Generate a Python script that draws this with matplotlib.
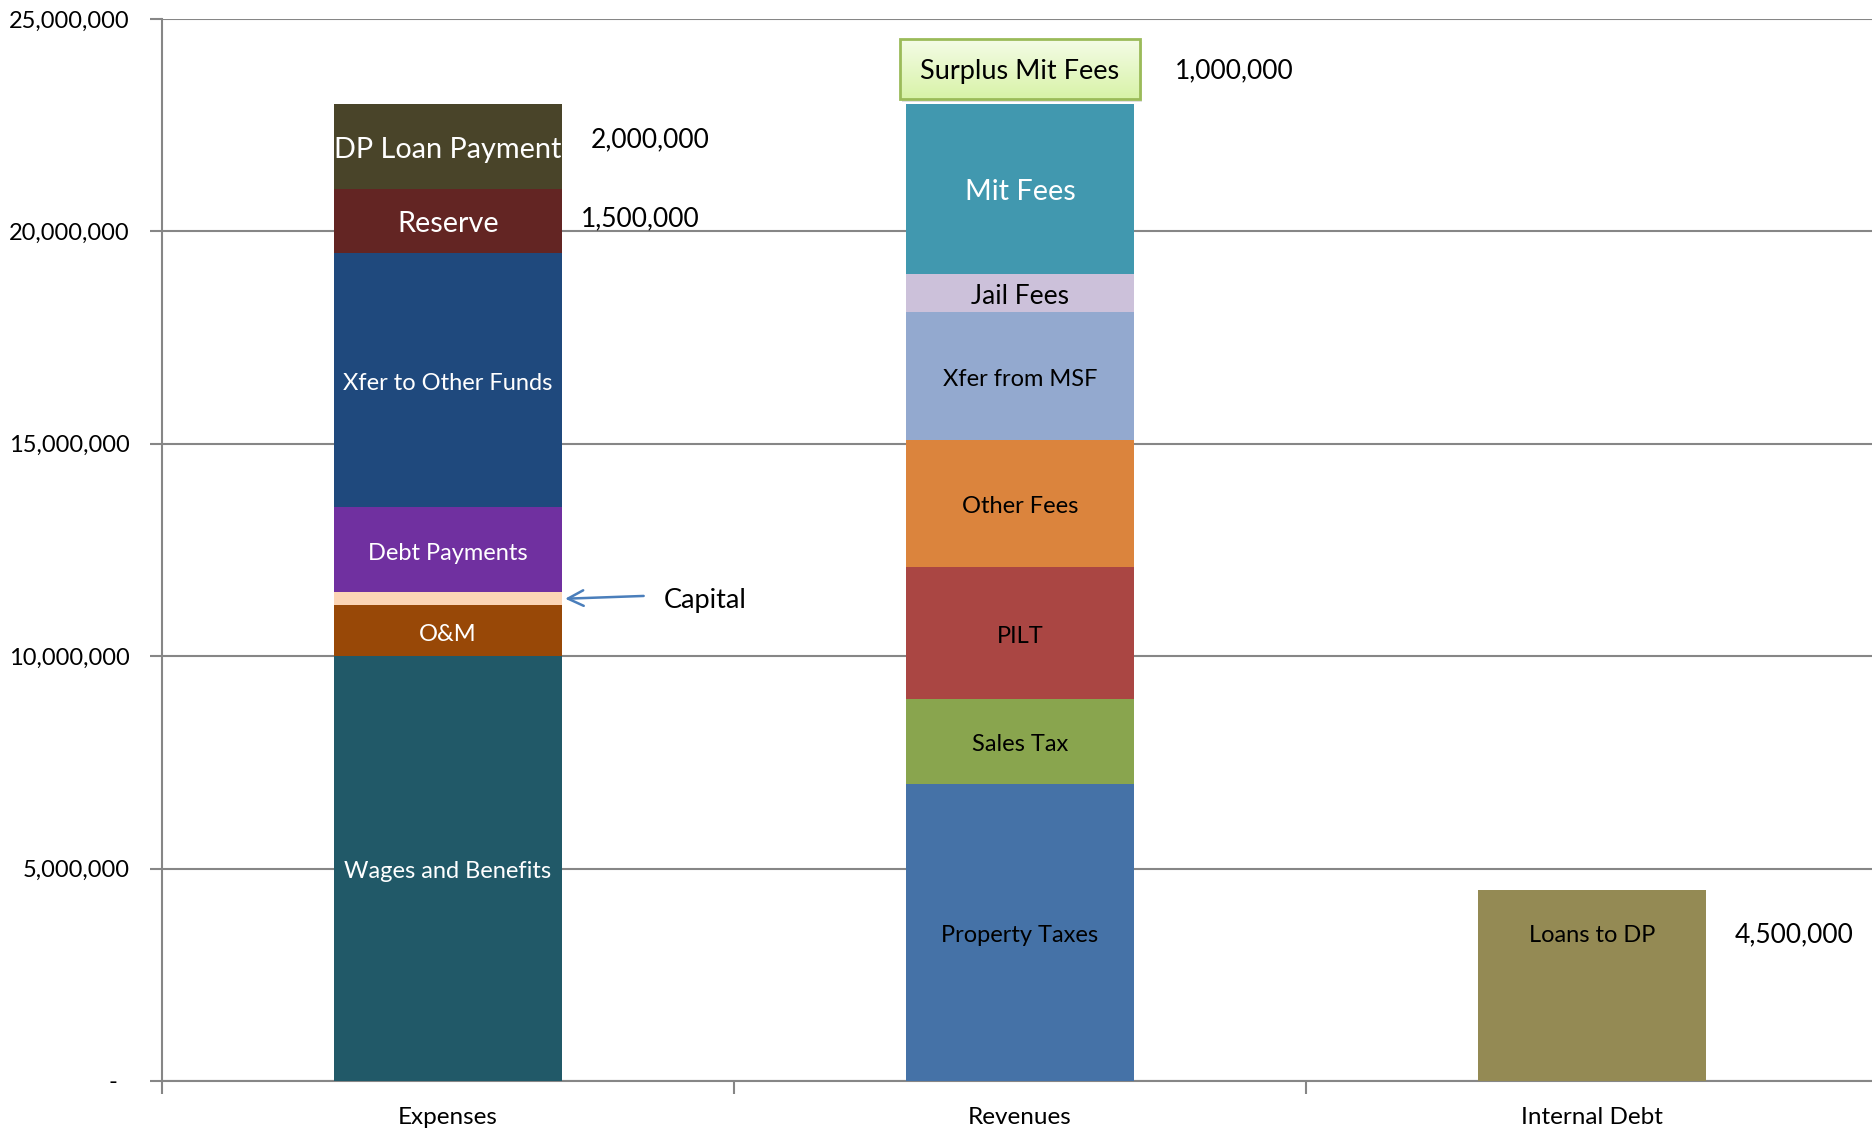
import numpy as np
import matplotlib.pyplot as plt
from matplotlib.patches import Rectangle
from matplotlib.colors import LinearSegmentedColormap
from matplotlib.ticker import FuncFormatter

plt.rcParams['font.family'] = ['Lato', 'DejaVu Sans']

# data
categories = ['Expenses', 'Revenues', 'Internal Debt']
expense_labels = ['Wages and Benefits', 'O&M', 'Capital', 'Debt Payments',
                  'Xfer to Other Funds', 'Reserve', 'DP Loan Payment']
expense_values = [10000000, 1200000, 300000, 2000000, 6000000, 1500000, 2000000]
revenue_labels = ['Property Taxes', 'Sales Tax', 'PILT', 'Other Fees',
                  'Xfer from MSF', 'Jail Fees', 'Mit Fees']
revenue_values = [7000000, 2000000, 3100000, 3000000, 3000000, 900000, 4000000]
debt_labels = ['Loans to DP']
debt_values = [4500000]
surplus_label = 'Surplus Mit Fees'
surplus_value = 1000000

# styles
expense_colors = ['#215968', '#984807', '#fcd5b5', '#7030a0', '#1f497d', '#632523', '#494429']
expense_text = ['white'] * 7
revenue_colors = ['#4572a7', '#89a54e', '#aa4643', '#db843d', '#93a9cf', '#ccc1da', '#4198af']
revenue_text = ['black'] * 6 + ['white']
debt_colors = ['#948a54']
debt_text = ['black']
big = {'DP Loan Payment', 'Reserve', 'Mit Fees'}

fig = plt.figure(figsize=(18.72, 11.3), dpi=100)
ax = fig.add_axes([0.0865, 0.0434, 0.9167, 0.9398])

width = 0.4
nudge = -80000  # text sits a touch low in the original


def stack(x, labels, values, colors, tcolors, label_y=None):
    bottom = 0
    for lab, v, c, tc in zip(labels, values, colors, tcolors):
        ax.bar(x, v, width, bottom=bottom, color=c, zorder=3)
        if lab != 'Capital':
            fs = 20.8 if lab in big else (19 if lab == 'Jail Fees' else 17)
            y = bottom + v / 2 if label_y is None else label_y
            ax.text(x, y + nudge, lab, ha='center', va='center', color=tc,
                    fontsize=fs, zorder=4)
        bottom += v
    return bottom


exp_total = stack(0, expense_labels, expense_values, expense_colors, expense_text)
rev_total = stack(1, revenue_labels, revenue_values, revenue_colors, revenue_text)
debt_total = stack(2, debt_labels, debt_values, debt_colors, debt_text,
                   label_y=debt_values[0] - 1000000)

# value labels
vfs = 19
ax.text(0.25, exp_total - expense_values[-1] / 2 + 150000, f'{expense_values[-1]:,}',
        fontsize=vfs, va='center', ha='left')
ax.text(0.232, exp_total - expense_values[-1] - expense_values[-2] / 2 + 50000,
        f'{expense_values[-2]:,}', fontsize=vfs, va='center', ha='left')
ax.text(2.25, debt_values[0] - 1050000, f'{debt_values[0]:,}', fontsize=vfs,
        va='center', ha='left')

# capital callout
cap_y = sum(expense_values[:2]) + expense_values[2] / 2
ax.annotate('', xy=(0.2, cap_y), xytext=(0.347, cap_y + 70000),
            arrowprops=dict(arrowstyle='->', color='#4a7ebb', lw=1.8,
                            mutation_scale=28), zorder=5)
ax.text(0.378, cap_y - 50000, 'Capital', fontsize=19.5, va='center', ha='left')

# surplus box
by0 = rev_total + 120000
bh = 1400000
shadow = Rectangle((1 - 0.21 + 0.003, by0 - 70000), 0.42, bh, color='#cccccc',
                   alpha=0.6, zorder=5, lw=0)
ax.add_patch(shadow)
grad = np.linspace(0, 1, 50).reshape(-1, 1)
cmap = LinearSegmentedColormap.from_list('g', ['#d8f3a8', '#f4fce6'])
ax.imshow(grad, cmap=cmap, origin='lower', aspect='auto',
          extent=(1 - 0.21, 1 + 0.21, by0, by0 + bh), zorder=6)
box = Rectangle((1 - 0.21, by0), 0.42, bh, facecolor='none',
                edgecolor='#9bbb59', lw=2, zorder=7)
ax.add_patch(box)
ax.text(1, by0 + bh / 2 - 50000, surplus_label, ha='center', va='center',
        fontsize=19.5, zorder=8)
ax.text(1.271, by0 + bh / 2 - 50000, f'{surplus_value:,}', fontsize=vfs,
        va='center', ha='left', zorder=8)

ax.set_xlim(-0.5, 2.5)
ax.set_ylim(0, 25000000)
ax.set_yticks(np.arange(0, 25000001, 5000000))
ax.yaxis.set_major_formatter(FuncFormatter(
    lambda v, p: '-  ' if v == 0 else f'{int(v):,}'))
ax.set_xticks(range(3))
ax.set_xticklabels(categories)
ax.set_xticks([-0.5, 0.5, 1.5], minor=True)
ax.tick_params(axis='x', which='major', length=0, pad=19, labelsize=17.5)
ax.tick_params(axis='x', which='minor', length=9, width=1.5, color='#868686')
ax.tick_params(axis='y', length=9, width=1.5, color='#868686', pad=14, labelsize=17)

ax.yaxis.grid(True, color='#868686', lw=1.5)
ax.set_axisbelow(True)
for s in ['top', 'right']:
    ax.spines[s].set_visible(False)
for s in ['left', 'bottom']:
    ax.spines[s].set_color('#868686')
    ax.spines[s].set_linewidth(1.5)

fig.savefig('out.png', dpi=100)
